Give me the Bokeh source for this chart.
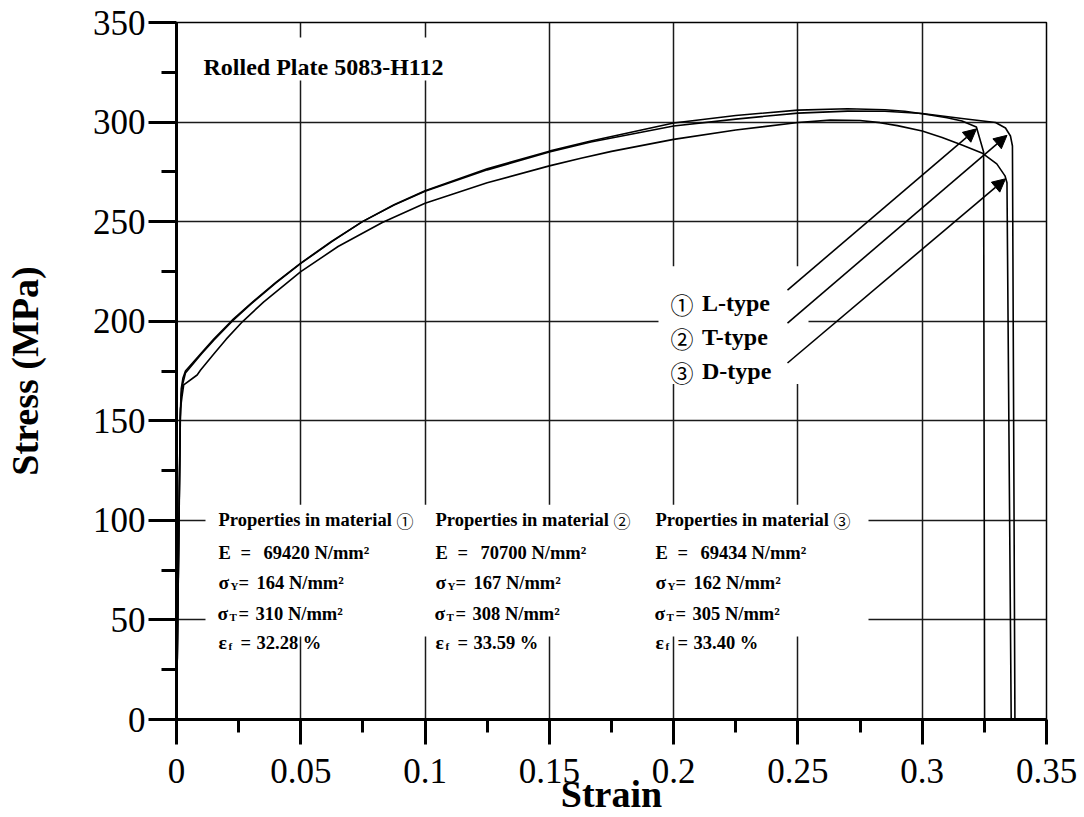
import math
from bokeh.plotting import figure
from bokeh.models import Range1d, FixedTicker, Label, Arrow, NormalHead, BoxAnnotation
from bokeh.embed import file_html
from bokeh.resources import INLINE

# ---------------- data ----------------
strain_L = [0, 0.0015, 0.0019, 0.0026, 0.0036, 0.01, 0.015, 0.0224, 0.03, 0.04, 0.05, 0.0625,
            0.0748, 0.0875, 0.1, 0.125, 0.15, 0.1667, 0.2, 0.225, 0.25, 0.27, 0.285, 0.293,
            0.30, 0.31, 0.316, 0.3218, 0.3247, 0.3251]
stress_L = [0, 150, 163, 169, 174, 183.5, 190.5, 200, 208.7, 219.2, 229, 240,
            250, 258.5, 265.5, 276.5, 285.4, 290.5, 299.5, 303.3, 306.0, 306.7, 306.2, 305.4,
            304.2, 302.2, 300.5, 297.5, 285, 0]

strain_T = [0, 0.0015, 0.0019, 0.0026, 0.0036, 0.01, 0.015, 0.0224, 0.03, 0.04, 0.05, 0.0625,
            0.0748, 0.0875, 0.1, 0.125, 0.15, 0.1667, 0.2, 0.225, 0.25, 0.27, 0.285, 0.30,
            0.316, 0.3295, 0.3335, 0.3355, 0.3363, 0.3373]
stress_T = [0, 152, 166, 171.5, 175, 184, 191, 200.5, 209, 219.5, 229.2, 240.2,
            250, 258.3, 265.3, 276, 285, 290, 298, 301.5, 304.5, 305.5, 305.4, 304.3,
            301.8, 299.8, 297, 293, 288, 0]

strain_D = [0, 0.0016, 0.0022, 0.0029, 0.0083, 0.0097, 0.015, 0.02, 0.0265, 0.035, 0.05,
            0.065, 0.0828, 0.1, 0.125, 0.15, 0.1627, 0.175, 0.2, 0.225, 0.25, 0.263, 0.275,
            0.283, 0.29, 0.30, 0.308, 0.316, 0.324, 0.330, 0.3333, 0.3341, 0.3358]
stress_D = [0, 156, 162, 168, 173, 175.5, 183.5, 191, 199.7, 209.6, 224.9,
            237.5, 249.6, 259.2, 269.5, 278, 281.8, 285.3, 291.3, 296, 299.8, 301, 300.8,
            299.7, 298.2, 295.5, 292.3, 288.5, 284.5, 279, 273, 269.5, 0]

x_ticks = [0, 0.05, 0.1, 0.15, 0.2, 0.25, 0.3, 0.35]
x_tick_labels = ["0", "0.05", "0.1", "0.15", "0.2", "0.25", "0.3", "0.35"]
x_minor_ticks = [0.025, 0.075, 0.125, 0.175, 0.225, 0.275, 0.325]
y_ticks = [0, 50, 100, 150, 200, 250, 300, 350]
y_tick_labels = ["0", "50", "100", "150", "200", "250", "300", "350"]
y_minor_ticks = [25, 75, 125, 175, 225, 275, 325]

x_title = "Strain"
y_title = "Stress (MPa)"
circled = ["\u2460", "\u2461", "\u2462"]
legend_labels = ["L-type", "T-type", "D-type"]
prop_header = "Properties in material"
E_values = ["69420", "70700", "69434"]
sigmaY_values = ["164", "167", "162"]
sigmaT_values = ["310", "308", "305"]
epsf_values = ["32.28", "33.59", "33.40"]
title_text = "Rolled Plate 5083-H112"

# ---------------- layout helpers ----------------
W, H = 1084, 817
L_B, R_B, T_B, B_B = 176, 38, 22, 97
FW, FH = W - L_B - R_B, H - T_B - B_B
XMAX, YMAX = 0.35, 350


def X(px):
    return (px - L_B) / FW * XMAX


def Y(py):
    return (H - B_B - py) / FH * YMAX


FONT = "Liberation Serif"
CFONT = "Noto Sans CJK JP"

p = figure(width=W, height=H, x_range=Range1d(0, XMAX), y_range=Range1d(0, YMAX),
           output_backend="svg", toolbar_location=None,
           min_border_left=L_B, min_border_right=R_B, min_border_top=T_B, min_border_bottom=B_B)
p.background_fill_color = "white"
p.border_fill_color = "white"
p.outline_line_color = "black"
p.outline_line_width = 1.5

xt = FixedTicker(ticks=x_ticks, minor_ticks=x_minor_ticks)
yt = FixedTicker(ticks=y_ticks, minor_ticks=y_minor_ticks)
p.xaxis.ticker = xt
p.yaxis.ticker = yt
p.xgrid.ticker = xt
p.ygrid.ticker = yt
p.xaxis.major_label_overrides = dict(zip(x_ticks, x_tick_labels))
p.yaxis.major_label_overrides = dict(zip(y_ticks, y_tick_labels))

for g in (p.xgrid, p.ygrid):
    g.grid_line_color = "#1a1a1a"
    g.grid_line_width = 1.5

for ax in (p.xaxis, p.yaxis):
    ax.axis_line_width = 3
    ax.axis_line_color = "black"
    ax.major_tick_line_width = 3
    ax.minor_tick_line_width = 3
    ax.major_tick_line_color = "black"
    ax.minor_tick_line_color = "black"
    ax.major_tick_in = 0
    ax.minor_tick_in = 0
    ax.major_label_text_font = FONT
    ax.major_label_text_font_size = "35px"
    ax.major_label_text_color = "black"
    ax.axis_label_text_font = FONT
    ax.axis_label_text_font_style = "bold"
    ax.axis_label_text_color = "black"

p.xaxis.major_tick_out = 25
p.xaxis.minor_tick_out = 13
p.xaxis.major_label_standoff = 14
p.xaxis.axis_label = x_title
p.xaxis.axis_label_text_font_size = "38px"
p.xaxis.axis_label_standoff = -13

p.yaxis.major_tick_out = 28
p.yaxis.minor_tick_out = 15
p.yaxis.major_label_standoff = 3
p.yaxis.axis_label = y_title
p.yaxis.axis_label_text_font_size = "38px"
p.yaxis.axis_label_standoff = 44

# ---------------- curves ----------------
for sx, sy in ((strain_L, stress_L), (strain_T, stress_T), (strain_D, stress_D)):
    p.line(sx, sy, line_color="black", line_width=1.6, line_join="round")

# ---------------- white backgrounds for text blocks ----------------
for (l, r, t, b) in ((190, 460, 37, 80), (658, 808, 266, 384), (205, 868, 505, 637)):
    p.add_layout(BoxAnnotation(left=X(l), right=X(r), top=Y(t), bottom=Y(b),
                               fill_color="white", fill_alpha=1.0, line_color=None))


def lab(px, py, text, size, font=FONT, bold=True):
    p.add_layout(Label(x=X(px), y=Y(py), text=text, text_font=font,
                       text_font_style="bold" if bold else "normal",
                       text_font_size=f"{size}px", text_color="black",
                       text_align="left", text_baseline="alphabetic"))


# title
lab(203, 66.5, title_text, 24)

# legend
for i, by in enumerate((303, 337, 371)):
    lab(670, by + 1, circled[i], 23, font=CFONT, bold=False)
    lab(701.5, by, legend_labels[i], 24)

# arrows
for (x0, y0, x1, y1) in ((787, 290, 976, 128.5), (787, 323, 1006.5, 135), (787, 363, 1005, 178.5)):
    p.add_layout(Arrow(end=NormalHead(size=13, fill_color="black", line_color="black", line_width=1),
                       x_start=X(x0), y_start=Y(y0), x_end=X(x1), y_end=Y(y1),
                       line_color="black", line_width=1.6))

# properties
fs = 18.5
for c, x0 in enumerate((218, 435, 655)):
    lab(x0, 520, prop_header, fs)
    lab(x0 + 178, 521, circled[c], 17, font=CFONT, bold=False)
    # E row
    lab(x0, 553, "E", fs)
    lab(x0 + 22, 553, "=", fs)
    lab(x0 + 45, 553, E_values[c] + " N/mm\u00b2", fs)
    # sigma_Y row
    lab(x0, 583, "\u03c3", fs + 1)
    lab(x0 + 12, 586.5, "Y", 11)
    lab(x0 + 20, 583, "=", fs)
    lab(x0 + 38, 583, sigmaY_values[c] + " N/mm\u00b2", fs)
    # sigma_T row
    lab(x0 - 1, 614, "\u03c3", fs + 1)
    lab(x0 + 11, 617.5, "T", 11)
    lab(x0 + 20, 614, "=", fs)
    lab(x0 + 37, 614, sigmaT_values[c] + " N/mm\u00b2", fs)
    # eps_f row
    lab(x0, 643, "\u03b5", fs + 1)
    lab(x0 + 10, 646.5, "f", 11)
    lab(x0 + 22, 643, "=", fs)
    lab(x0 + 38, 643, epsf_values[c] + " %", fs)

open("out.html", "w").write(file_html(p, INLINE))
